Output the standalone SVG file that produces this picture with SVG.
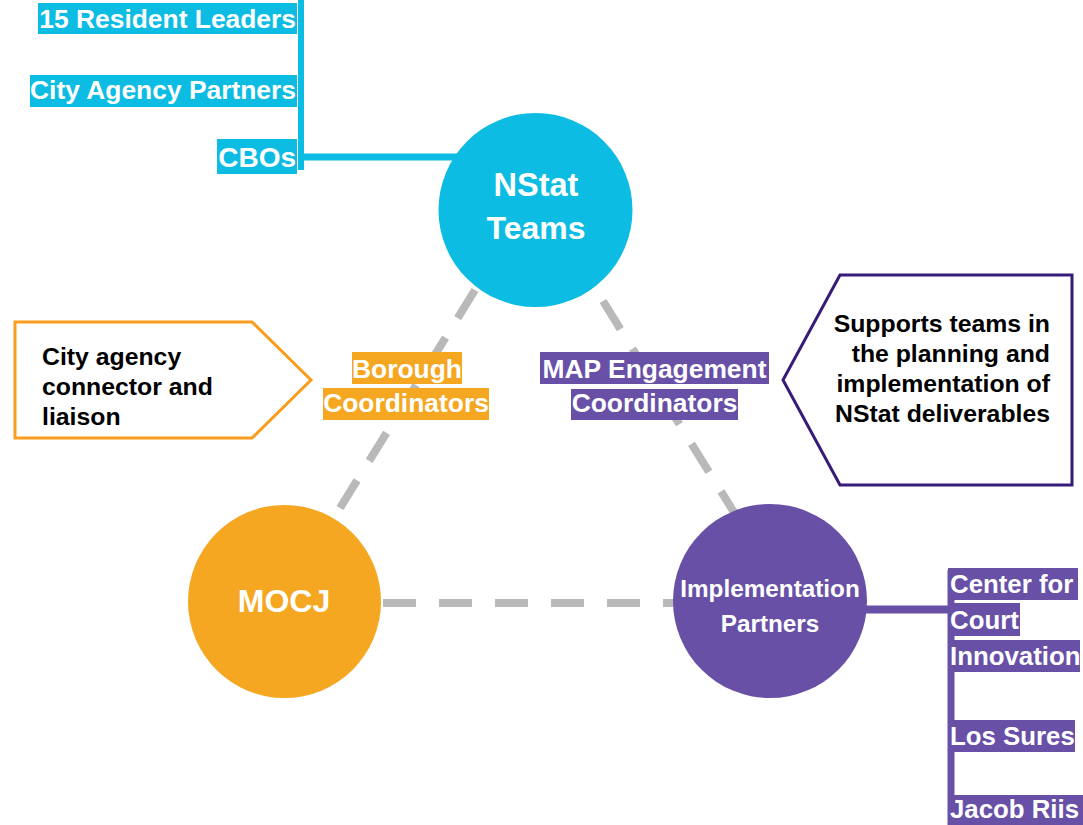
<svg xmlns="http://www.w3.org/2000/svg" width="1083" height="825" viewBox="0 0 1083 825">
<style>
text{font-family:"Liberation Sans",Arial,sans-serif;font-weight:bold}
.w{fill:#ffffff}
.k{fill:#000000}
.dash{stroke:#b9b9b9;stroke-width:8;stroke-dasharray:33 23;fill:none}
.blue{fill:#0dbce3}
.org{fill:#f6a721}
.pur{fill:#6850a7}
</style>
<rect width="1083" height="825" fill="#ffffff"/>
<g id="connectors">
<line class="dash" x1="475" y1="290" x2="340" y2="508"/>
<line class="dash" x1="603" y1="301" x2="740" y2="522"/>
<line class="dash" x1="383" y1="603" x2="690" y2="603"/>
<path d="M301,0 V170" stroke="#0dbce3" stroke-width="6" fill="none"/>
<path d="M298,157 H460" stroke="#0dbce3" stroke-width="7" fill="none"/>
<path d="M951,570 V825" stroke="#6850a7" stroke-width="7" fill="none"/>
<path d="M860,609.5 H951" stroke="#6850a7" stroke-width="8" fill="none"/>
</g>
<g id="nstat">
<circle class="blue" cx="535.5" cy="210" r="97"/>
<text class="w" x="536" y="196" font-size="32.5" text-anchor="middle">NStat</text>
<text class="w" x="536" y="239" font-size="32" text-anchor="middle">Teams</text>
</g>
<g id="mocj">
<circle class="org" cx="284.5" cy="601.5" r="96.5"/>
<text class="w" x="284" y="612" font-size="32" text-anchor="middle">MOCJ</text>
</g>
<g id="impl">
<circle class="pur" cx="770" cy="601" r="97"/>
<text class="w" x="770" y="597" font-size="24.3" text-anchor="middle">Implementation</text>
<text class="w" x="770" y="632" font-size="24.3" text-anchor="middle">Partners</text>
</g>
<g id="nstat-members">
<rect class="blue" x="38" y="3" width="259" height="31"/>
<text class="w" x="296" y="28" font-size="26.4" text-anchor="end">15 Resident Leaders</text>
<rect class="blue" x="30" y="75" width="267" height="32"/>
<text class="w" x="296" y="99" font-size="26.4" text-anchor="end">City Agency Partners</text>
<rect class="blue" x="217" y="139" width="80" height="35"/>
<text class="w" x="296" y="167" font-size="28" text-anchor="end">CBOs</text>
</g>
<g id="impl-members">
<rect class="pur" x="948" y="568" width="130" height="32"/>
<text class="w" x="950" y="593" font-size="25.8">Center for</text>
<rect class="pur" x="948" y="603" width="72" height="33"/>
<text class="w" x="950" y="629" font-size="25.8">Court</text>
<rect class="pur" x="948" y="640" width="132" height="32"/>
<text class="w" x="950" y="665" font-size="25.8">Innovation</text>
<rect class="pur" x="948" y="720" width="127" height="32"/>
<text class="w" x="950" y="745" font-size="25.8">Los Sures</text>
<rect class="pur" x="948" y="795" width="135" height="30"/>
<text class="w" x="950" y="818" font-size="25.8">Jacob Riis</text>
</g>
<g id="borough">
<rect class="org" x="352" y="352" width="110" height="32"/>
<text class="w" x="407" y="378" font-size="26.4" text-anchor="middle">Borough</text>
<rect class="org" x="323" y="388" width="166" height="32"/>
<text class="w" x="406" y="412" font-size="26.4" text-anchor="middle">Coordinators</text>
</g>
<g id="map">
<rect class="pur" x="540" y="352" width="229" height="32"/>
<text class="w" x="654.5" y="378" font-size="26.4" text-anchor="middle">MAP Engagement</text>
<rect class="pur" x="571" y="389" width="167" height="31"/>
<text class="w" x="654.5" y="412" font-size="26.4" text-anchor="middle">Coordinators</text>
</g>
<g id="borough-note">
<polygon points="15,322 252,322 311,380 252,438 15,438" fill="#ffffff" stroke="#f99d1c" stroke-width="3"/>
<text class="k" x="42" y="365" font-size="24.8">City agency</text>
<text class="k" x="42" y="395" font-size="24.8">connector and</text>
<text class="k" x="42" y="425" font-size="24.8">liaison</text>
</g>
<g id="map-note">
<polygon points="840,275 1072,275 1072,485 840,485 783,380" fill="#ffffff" stroke="#361b78" stroke-width="3"/>
<text class="k" x="1050" y="332" font-size="24.8" text-anchor="end">Supports teams in</text>
<text class="k" x="1050" y="362" font-size="24.8" text-anchor="end">the planning and</text>
<text class="k" x="1050" y="392" font-size="24.8" text-anchor="end">implementation of</text>
<text class="k" x="1050" y="422" font-size="24.8" text-anchor="end">NStat deliverables</text>
</g>
</svg>
